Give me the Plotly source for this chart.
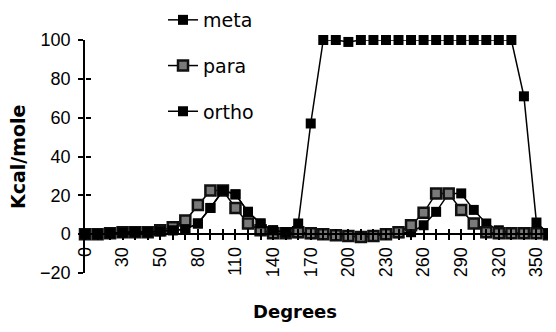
import plotly.graph_objects as go

degrees = ["0", "10", "20", "30", "40", "45"] + [str(d) for d in range(50, 370, 10)]
meta = [0, 0, 0.5, 0.8, 1.2, 1, 1.5, 2, 2.5, 5.5, 13.5, 22.5, 20.5, 11.5, 5.5, 2, 1,
        0.5, 0, 0, -0.5, -1, -1.5, -1, 0, 0.5, 1, 4.6, 11.5, 21, 21, 12.5, 5.5, 2,
        0.5, 0.5, 0.5, 0]
para = [0, 0, 0.5, 1, 1, 1, 2, 3.5, 7, 15, 22.5, 22.5, 13.5, 5.5, 2, 0.5, 0.5,
        1, 0.5, 0, -0.5, -1, -1.5, -1, 0, 1, 4.6, 11, 21, 21, 12.5, 5.5, 1, 0.5,
        0.5, 0.5, 0.5, 0]
ortho = [0, 0, 0.5, 0.8, 1.2, 1, 1.5, 2, 2.5, 5.5, 13.5, 22.5, 20.5, 11.5, 5.5, 2, 1,
         5.5, 57, 100, 100, 99, 100, 100, 100, 100, 100, 100, 100, 100, 100, 100,
         100, 100, 100, 71, 6, 0]
y_ticks = [-20, 0, 20, 40, 60, 80, 100]
x_ticktext = [d if i % 3 == 0 else "" for i, d in enumerate(degrees)]

# The page body adds an 8px offset; layout is compensated for it.
OFF = 8
L, R_EDGE = 85 - OFF, 549 - OFF
PW = R_EDGE - L
PH = 273 - OFF
ytop = (PH - (40 - OFF)) / PH

def px(x):
    return (x - OFF - L) / PW

def py(y):
    return (PH - (y - OFF)) / PH

fig = go.Figure()
fig.add_trace(go.Scatter(x=degrees, y=meta, name="meta", mode="lines+markers",
                         line=dict(color="black", width=1.5),
                         marker=dict(symbol="square", size=10, color="black"),
                         cliponaxis=False, legendgroup="a"))
fig.add_trace(go.Scatter(x=degrees, y=para, name="para", mode="lines+markers",
                         line=dict(color="black", width=1.5),
                         marker=dict(symbol="square", size=10, color="#7a7a7a",
                                     line=dict(color="#111111", width=2.5)),
                         cliponaxis=False, legendgroup="b"))
fig.add_trace(go.Scatter(x=degrees, y=ortho, name="ortho", mode="lines+markers",
                         xaxis="x2", yaxis="y2",
                         line=dict(color="black", width=1.5),
                         marker=dict(symbol="square", size=10, color="black"),
                         cliponaxis=False, legendgroup="c"))

tickfont = dict(family="Liberation Sans", size=18, color="black")
pos0 = ytop * 20 / 120

fig.update_layout(
    width=556, height=332,
    margin=dict(l=L, r=556 - R_EDGE, t=0, b=332 - PH, autoexpand=False),
    plot_bgcolor="white", paper_bgcolor="white",
    showlegend=True,
    legend=dict(x=px(163), y=1 + 7 / PH, xanchor="left", yanchor="top",
                font=dict(family="DejaVu Sans", size=19, color="black"),
                tracegroupgap=18, bgcolor="rgba(0,0,0,0)"),
    xaxis=dict(type="category", range=[0, 37], anchor="free", position=pos0,
               automargin=False,
               showline=True, linecolor="black", linewidth=1.5,
               showgrid=False, zeroline=False,
               tickmode="array", tickvals=degrees, ticktext=x_ticktext,
               ticks="outside", ticklen=5, tickcolor="black", tickwidth=1.5,
               tickangle=-90, tickfont=tickfont, ticklabelstandoff=0),
    xaxis2=dict(type="category", range=[0, 37], anchor="free", position=pos0,
                overlaying="x", showline=False, showgrid=False, zeroline=False,
                automargin=False,
                tickmode="array", tickvals=degrees, showticklabels=False,
                ticks="inside", ticklen=5, tickcolor="black", tickwidth=1.5),
    yaxis=dict(range=[-20, 100], domain=[0, ytop], automargin=False,
               showline=True, linecolor="black", linewidth=1.5,
               showgrid=False, zeroline=False,
               tickmode="array", tickvals=y_ticks,
               ticks="outside", ticklen=5, tickcolor="black", tickwidth=1.5,
               tickfont=tickfont, ticklabelstandoff=4),
    yaxis2=dict(range=[-20, 100], domain=[0, ytop], overlaying="y", anchor="free",
                position=0, automargin=False,
                side="left", showline=False, showgrid=False, zeroline=False,
                tickmode="array", tickvals=y_ticks, showticklabels=False,
                ticks="inside", ticklen=5, tickcolor="black", tickwidth=1.5),
    annotations=[
        dict(text="<b>Kcal/mole</b>", textangle=-90, xref="paper", yref="paper",
             x=px(18), y=py(157), xanchor="center", yanchor="middle",
             showarrow=False,
             font=dict(family="DejaVu Sans", size=19, color="black")),
        dict(text="<b>Degrees</b>", xref="paper", yref="paper",
             x=px(295), y=py(311), xanchor="center", yanchor="middle",
             showarrow=False,
             font=dict(family="DejaVu Sans", size=18, color="black")),
    ],
)

fig.write_html("out.html")
